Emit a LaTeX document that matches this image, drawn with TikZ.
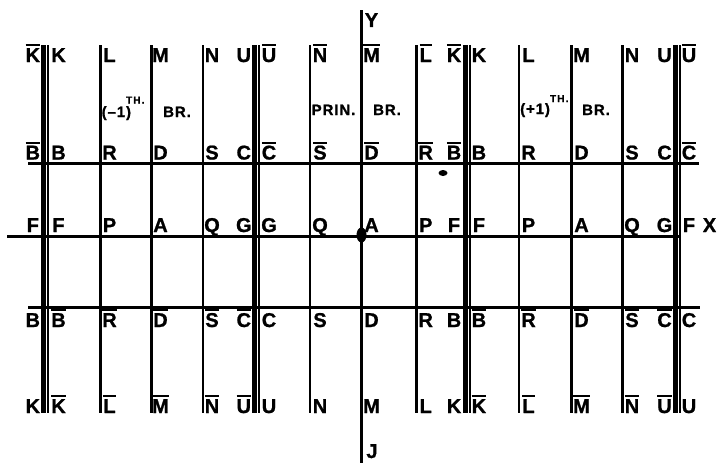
\documentclass[tikz,border=0pt]{standalone}
\usepackage{fontspec}
\setmainfont{Liberation Sans}
\newcommand{\lettfont}{\fontsize{20}{20}\selectfont\bfseries\addfontfeature{FakeBold=1}}
\newcommand{\notefont}{\fontsize{15}{15}\selectfont\bfseries\addfontfeature{LetterSpace=6,FakeBold=1}}
\newcommand{\thfont}{\fontsize{10}{10}\selectfont\bfseries\addfontfeature{LetterSpace=12,FakeBold=1}}
% barred letter
\newcommand{\ovl}[1]{\vbox{\hrule height 1.8pt\kern 2pt\hbox{#1}}}

\begin{document}
\begin{tikzpicture}[x=1pt, y=-1pt,
  vline/.style={black, line width=2.5pt},
  hline/.style={black, line width=3pt},
  heavy/.style={black, line width=5pt},
  light/.style={black, line width=2pt},
  letter/.style={font=\lettfont, anchor=base, inner sep=0pt},
  note/.style={font=\notefont, anchor=base west, inner sep=0pt},
]
\useasboundingbox (0,0) rectangle (717,463);

% ===== Horizontal lines =====
\draw[hline] (28,163) -- (699,163);
\draw[hline] (7,236) -- (681,236);
\draw[hline] (28,307) -- (700,307);

% ===== Vertical lines =====
% heavy double lines between the branches
\foreach \c in {43.5,254.5,465.5,675.5} {
  \draw[heavy] (\c,45) -- (\c,413);
  \draw[light] (\c+4.5,45) -- (\c+4.5,413);
}
% thin lines
\foreach \x in {100.3,151.3,202.8,310,416.5,519,571.5,622.4}
  \draw[vline] (\x,45) -- (\x,413);
% Y axis
\draw[vline] (361.5,10) -- (361.5,463);

% ===== Letters =====
\def\slots{{32.8,58.5,109.5,160.5,212,243.8,269,320,371.5,425.7,454,478.9,528.5,581.5,632,664.5,689}}

\foreach \t [count=\i from 0] in {\ovl{K},K,L,M,N,U,\ovl{U},\ovl{N},\ovl{M},\ovl{L},\ovl{K},K,L,M,N,U,\ovl{U}} {
  \pgfmathsetmacro\xx{\slots[\i]}
  \node[letter] (top-\i) at (\xx,62) {\t};
}
\foreach \t [count=\i from 0] in {\ovl{B},B,R,D,S,C,\ovl{C},\ovl{S},\ovl{D},\ovl{R},\ovl{B},B,R,D,S,C,\ovl{C}} {
  \pgfmathsetmacro\xx{\slots[\i]}
  \node[letter] (upper-\i) at (\xx,159.5) {\t};
}
\foreach \t [count=\i from 0] in {F,F,P,A,Q,G,G,Q,A,P,F,F,P,A,Q,G,F} {
  \pgfmathsetmacro\xx{\slots[\i]}
  \node[letter] (mid-\i) at (\xx,232) {\t};
}
\foreach \t [count=\i from 0] in {B,\ovl{B},\ovl{R},\ovl{D},\ovl{S},\ovl{C},C,S,D,R,B,\ovl{B},\ovl{R},\ovl{D},\ovl{S},\ovl{C},C} {
  \pgfmathsetmacro\xx{\slots[\i]}
  \node[letter] (lower-\i) at (\xx,327) {\t};
}
\foreach \t [count=\i from 0] in {K,\ovl{K},\ovl{L},\ovl{M},\ovl{N},\ovl{U},U,N,M,L,K,\ovl{K},\ovl{L},\ovl{M},\ovl{N},\ovl{U},U} {
  \pgfmathsetmacro\xx{\slots[\i]}
  \node[letter] (bot-\i) at (\xx,413) {\t};
}

% axis letters
\node[letter] (xlab) at (709.5,232) {X};
\node[letter] (ylab) at (371.5,27) {Y};
\node[letter] (jlab) at (372,458) {J};

% ===== Branch notes =====
\node[note] (minus) at (101.5,117) {(\textendash1)\kern-5pt\raisebox{13.5pt}{\thfont TH.}};
\node[note] (minusbr) at (163,117) {BR.};
\node[note] (prin) at (311.5,115) {PRIN.};
\node[note] (prinbr) at (373,115) {BR.};
\node[note] (plus) at (520,114) {(+1)\raisebox{12pt}{\thfont TH.}};
\node[note] (plusbr) at (582,115) {BR.};

% ===== Marks =====
\fill (361.5,235) ellipse (5pt and 7.5pt);
\fill (443,173) ellipse (4.5pt and 3pt);

\end{tikzpicture}
\end{document}
